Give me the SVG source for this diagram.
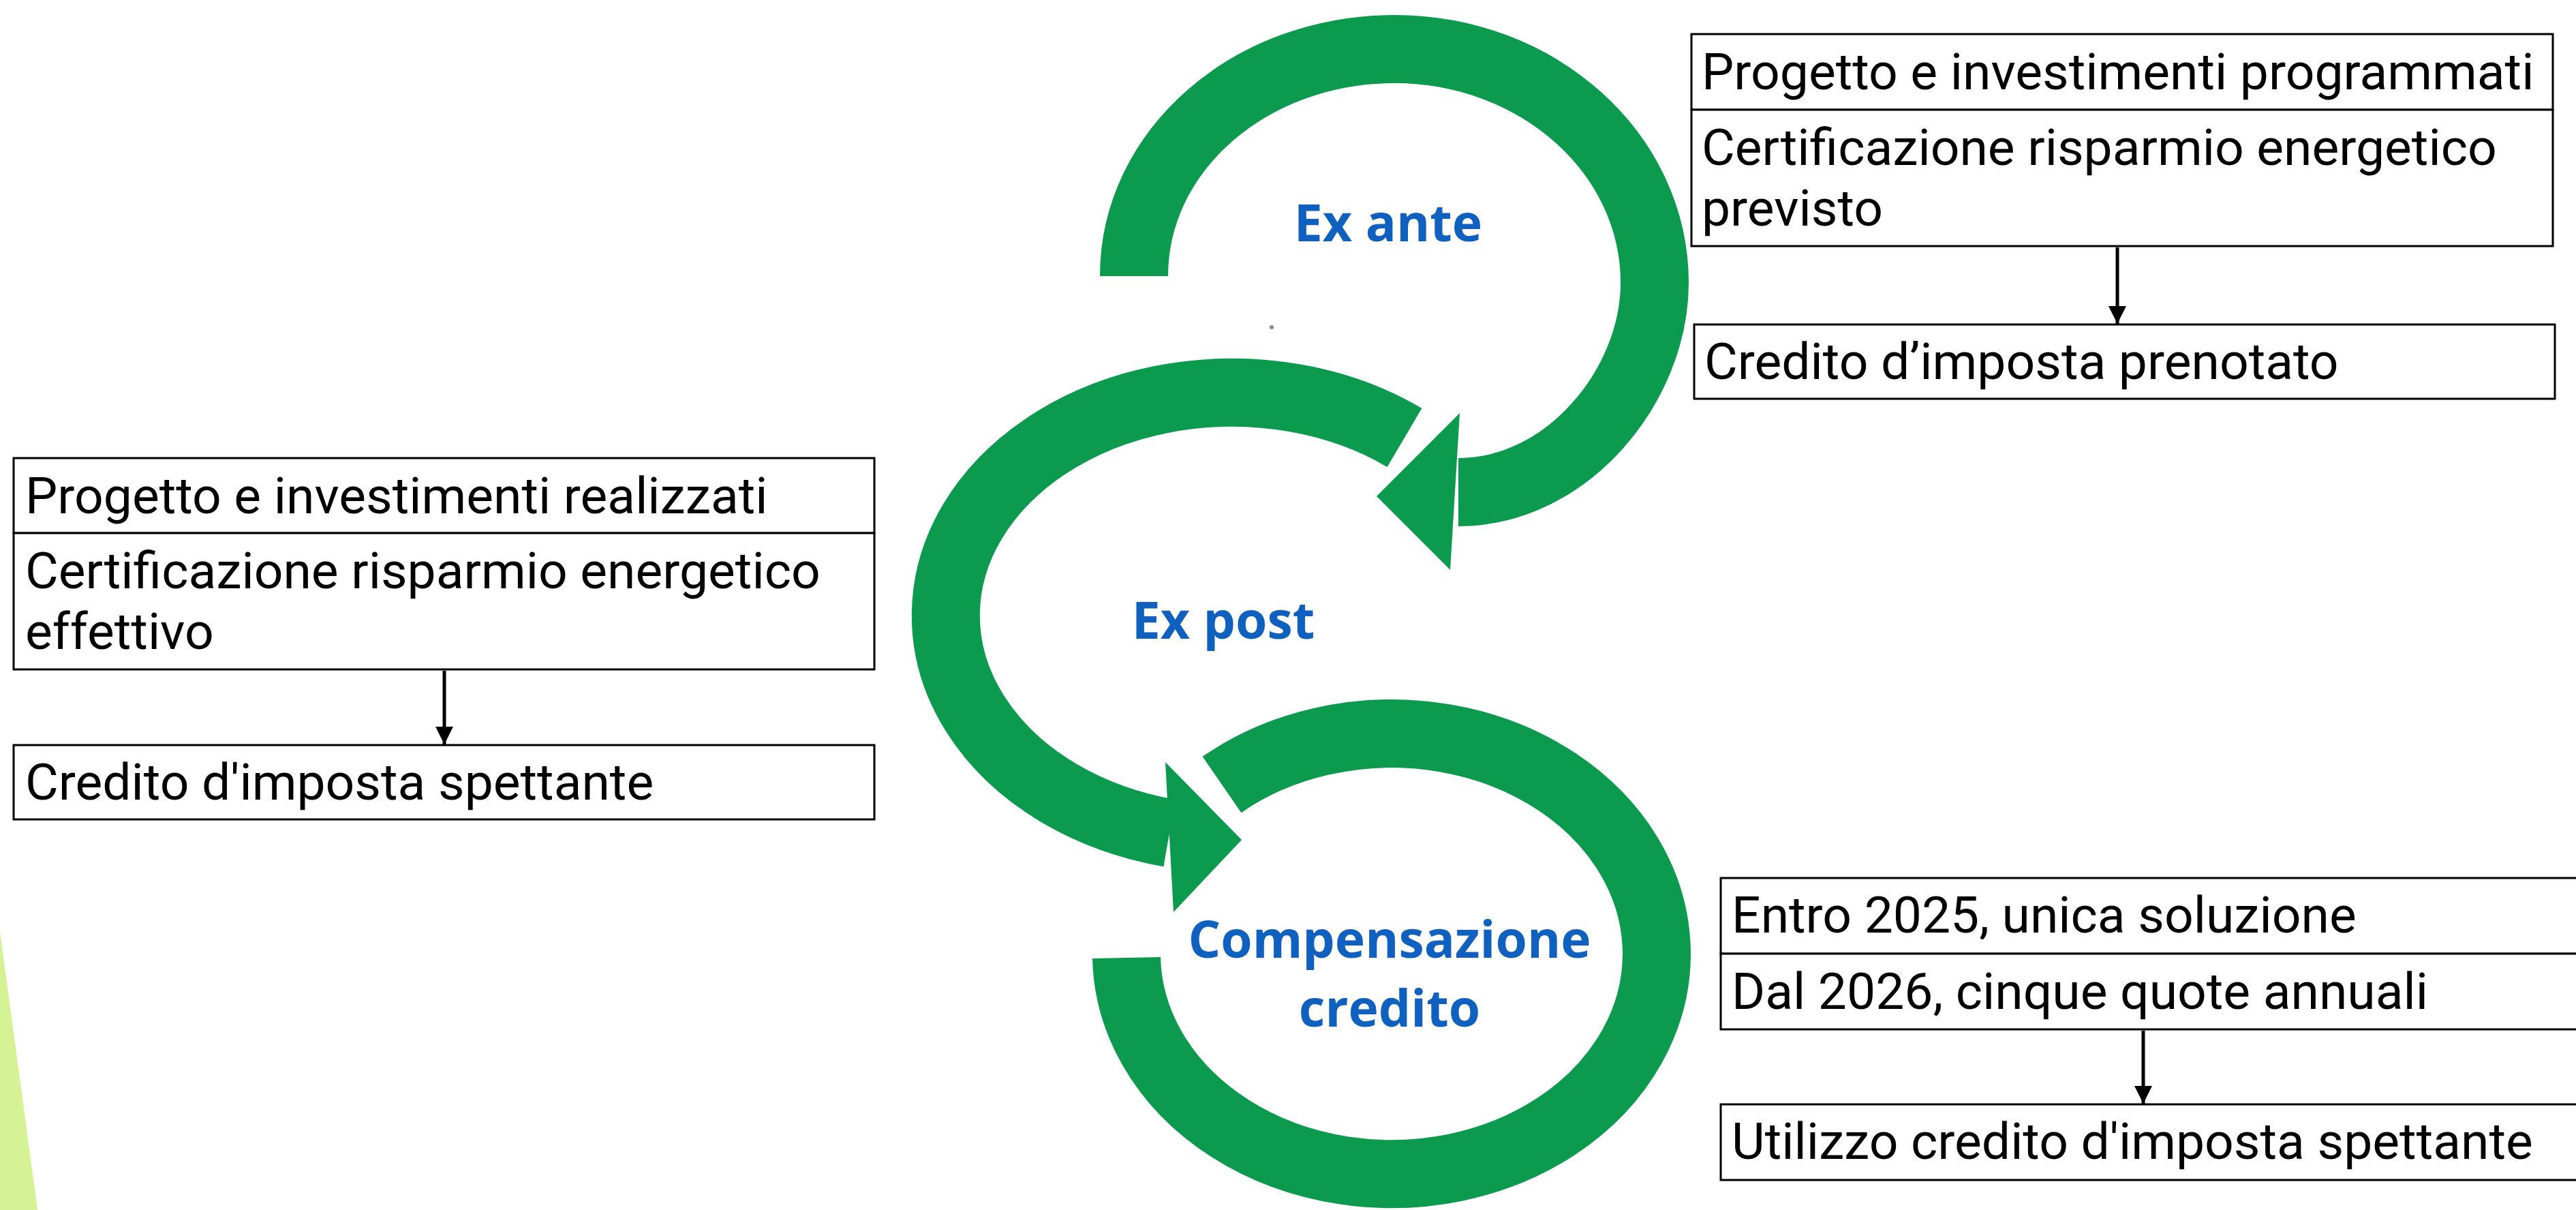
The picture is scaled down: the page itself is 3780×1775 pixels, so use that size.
<svg xmlns="http://www.w3.org/2000/svg" width="3780" height="1775" viewBox="0 0 3780 1775">
<defs>
<style>
.box{fill:#fff;stroke:#000;stroke-width:3}
.t{font-family:Roboto,"Liberation Sans",sans-serif;font-size:75px;fill:#000}
.lbl{font-family:"Open Sans","Liberation Sans",sans-serif;font-weight:700;font-size:75px;fill:#1060c0;text-anchor:middle}
.arc{fill:none;stroke:#0c9a4f;stroke-width:100;stroke-linecap:butt}
.head{fill:#0c9a4f}
.conn{stroke:#000;stroke-width:5;fill:none}
</style>
<marker id="ah" markerWidth="28" markerHeight="28" refX="26" refY="14" orient="auto" markerUnits="userSpaceOnUse">
<path d="M0,1 L26,14 L0,27 z" fill="#000"/>
</marker>
</defs>
<rect width="3780" height="1775" fill="#fff"/>
<polygon points="0,1367 55,1775 0,1775" fill="#d5f294"/>

<g id="cycle-ex-ante">
<path class="arc" d="M 1664 405 C 1664 220 1835 72 2046 72 C 2257 72 2428 225 2428 415 C 2428 565 2300 722 2140 722"/>
<polygon class="head" points="2142,606 2020,728 2128,836"/>
<text class="lbl" x="2037" y="354">Ex ante</text>
</g>
<g id="cycle-ex-post">
<path class="arc" d="M 2061 642 A 420 327 0 1 0 1716 1222"/>
<polygon class="head" points="1710,1118 1822,1232 1722,1338"/>
<text class="lbl" x="1795" y="937">Ex post</text>
</g>
<g id="cycle-compensazione">
<path class="arc" d="M 1653 1405 A 389 323 0 1 0 1793 1151"/>
<text class="lbl" x="2039" y="1405">Compensazione</text>
<text class="lbl" x="2039" y="1506">credito</text>
</g>
<circle cx="1866" cy="480" r="3" fill="#888"/>

<g id="ex-ante-progetto">
<rect class="box" x="2482" y="50" width="1264" height="111"/>
<text class="t" x="2497" y="131">Progetto e investimenti programmati</text>
</g>
<g id="ex-ante-certificazione">
<rect class="box" x="2482" y="161" width="1264" height="200"/>
<text class="t" x="2497" y="242">Certificazione risparmio energetico</text>
<text class="t" x="2497" y="331">previsto</text>
</g>
<g id="ex-ante-credito">
<rect class="box" x="2486" y="476" width="1263" height="109"/>
<text class="t" x="2501" y="556">Credito d’imposta prenotato</text>
</g>

<g id="ex-post-progetto">
<rect class="box" x="20" y="672" width="1263" height="110"/>
<text class="t" x="37" y="753">Progetto e investimenti realizzati</text>
</g>
<g id="ex-post-certificazione">
<rect class="box" x="20" y="782" width="1263" height="200"/>
<text class="t" x="37" y="863">Certificazione risparmio energetico</text>
<text class="t" x="37" y="952">effettivo</text>
</g>
<g id="ex-post-credito">
<rect class="box" x="20" y="1093" width="1263" height="109"/>
<text class="t" x="37" y="1173">Credito d'imposta spettante</text>
</g>

<g id="comp-entro">
<rect class="box" x="2525" y="1288" width="1300" height="111"/>
<text class="t" x="2541" y="1368">Entro 2025, unica soluzione</text>
</g>
<g id="comp-dal">
<rect class="box" x="2525" y="1399" width="1300" height="111"/>
<text class="t" x="2541" y="1480">Dal 2026, cinque quote annuali</text>
</g>
<g id="comp-utilizzo">
<rect class="box" x="2525" y="1620" width="1300" height="111"/>
<text class="t" x="2541" y="1700">Utilizzo credito d'imposta spettante</text>
</g>

<g id="connectors">
<line class="conn" x1="3107" y1="363" x2="3107" y2="475" marker-end="url(#ah)"/>
<line class="conn" x1="652" y1="984" x2="652" y2="1092" marker-end="url(#ah)"/>
<line class="conn" x1="3145" y1="1512" x2="3145" y2="1619" marker-end="url(#ah)"/>
</g>
</svg>
